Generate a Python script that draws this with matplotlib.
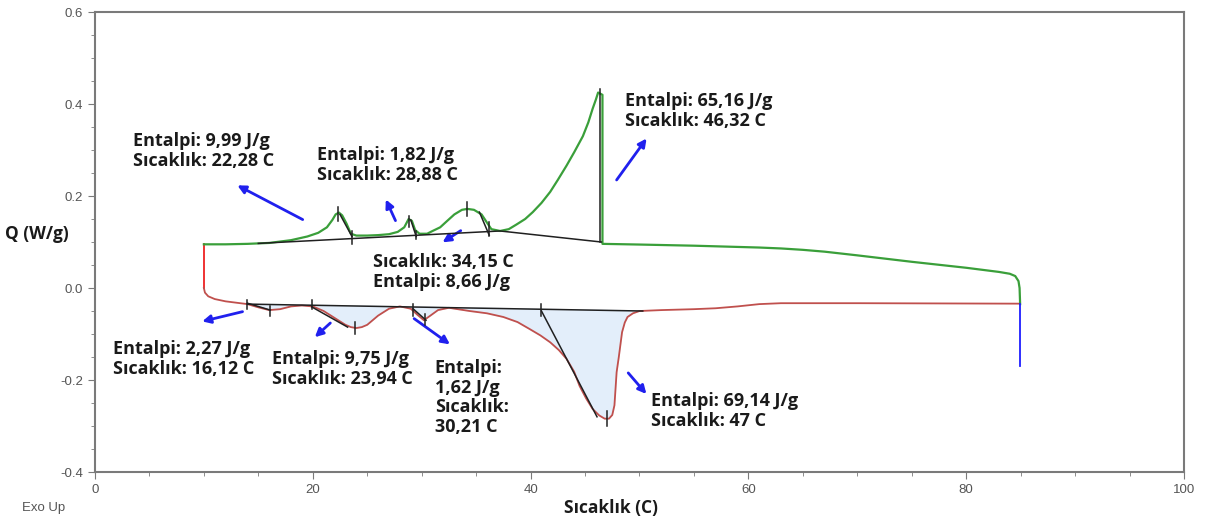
import matplotlib.pyplot as plt
import numpy as np

# heating curve (exo up)
heat_x = [10.0, 12, 14, 16, 18, 19.5, 20.5, 21.3, 21.8, 22.1, 22.4, 22.7, 23.1, 23.5, 24, 25, 26, 27,
          27.8, 28.4, 28.8, 29.1, 29.4, 29.8, 30.5, 31.0, 31.7, 32.3, 33, 33.7, 34.2, 34.8, 35.5,
          36.0, 36.4, 37.2, 38, 38.7, 39.5, 40.2, 41, 41.8, 42.5, 43.3, 44, 44.8, 45.3, 45.7, 46.0,
          46.2, 46.6, 46.6, 50, 55, 58, 61, 63, 65, 67, 70, 75, 80, 83, 84, 84.5, 84.8, 84.9, 84.95]
heat_y = [0.095, 0.095, 0.096, 0.098, 0.104, 0.112, 0.120, 0.132, 0.148, 0.160, 0.164, 0.158,
          0.140, 0.118, 0.114, 0.114, 0.115, 0.117, 0.122, 0.132, 0.150, 0.146, 0.126, 0.118,
          0.118, 0.124, 0.132, 0.145, 0.160, 0.170, 0.172, 0.170, 0.160, 0.142, 0.128, 0.124,
          0.128, 0.138, 0.150, 0.165, 0.185, 0.209, 0.235, 0.266, 0.295, 0.330, 0.360, 0.390,
          0.410, 0.425, 0.420, 0.096, 0.0945, 0.092, 0.090, 0.088, 0.086, 0.083, 0.079, 0.071,
          0.057, 0.044, 0.035, 0.031, 0.026, 0.015, 0.0, -0.035]

# cooling curve (endo down)
cool_x = [10.0, 10.1, 10.4, 11, 12, 13, 14, 15, 16, 17, 18, 19, 20, 21, 22, 23, 23.5, 24, 24.5,
          25, 26, 27, 28, 29, 29.6, 30.2, 30.8, 31.5, 32.5, 34.4, 36, 37.5, 38.8, 39.9, 40.9, 41.8,
          42.6, 43.3, 44.0, 44.5, 45.1, 45.7, 46.3, 46.8, 47.2, 47.5, 47.7, 47.9, 48.1, 48.4, 48.65,
          48.9, 49.4, 50, 52, 55, 57, 59, 61, 63, 70, 84.9]
cool_y = [0.0, -0.010, -0.018, -0.024, -0.029, -0.032, -0.035, -0.042, -0.048, -0.046, -0.040,
          -0.038, -0.040, -0.050, -0.065, -0.080, -0.085, -0.087, -0.085, -0.080, -0.060, -0.045,
          -0.040, -0.045, -0.058, -0.070, -0.060, -0.048, -0.043, -0.050, -0.055, -0.063, -0.074,
          -0.089, -0.103, -0.118, -0.135, -0.154, -0.182, -0.213, -0.240, -0.263, -0.277, -0.284,
          -0.284, -0.276, -0.255, -0.183, -0.150, -0.096, -0.075, -0.063, -0.055, -0.050, -0.048,
          -0.046, -0.044, -0.040, -0.035, -0.033, -0.033, -0.034]

# baselines
heat_base_x = [15, 37.2, 46.5]
heat_base_y = [0.097, 0.124, 0.100]
cool_base_x = [14, 50.3]
cool_base_y = [-0.035, -0.050]

# tangent segments and peak ticks (x0, y0, x1, y1)
heat_tangents = [(22.5, 0.160, 23.6, 0.112), (29.0, 0.148, 29.5, 0.112), (35.3, 0.165, 36.2, 0.115)]
heat_ticks = [(22.3, 0.146, 0.176), (23.6, 0.096, 0.124), (28.8, 0.133, 0.157), (29.5, 0.107, 0.124),
              (34.2, 0.157, 0.187), (36.2, 0.113, 0.143), (46.4, 0.100, 0.433)]
cool_tangents = [(14, -0.033, 16.1, -0.048), (19.9, -0.041, 23.2, -0.085), (29.2, -0.045, 30.4, -0.070),
                 (41.0, -0.050, 46.1, -0.280)]
cool_ticks = [(14.0, -0.025, -0.045), (16.1, -0.040, -0.060), (19.9, -0.025, -0.045),
              (23.9, -0.074, -0.100), (29.2, -0.035, -0.060), (30.3, -0.057, -0.080),
              (41.0, -0.035, -0.060), (47.0, -0.267, -0.300)]

# annotations: text, text position, arrow tail, arrow head
notes = ["Entalpi: 9,99 J/g\nSıcaklık: 22,28 C",
         "Entalpi: 1,82 J/g\nSıcaklık: 28,88 C",
         "Sıcaklık: 34,15 C\nEntalpi: 8,66 J/g",
         "Entalpi: 65,16 J/g\nSıcaklık: 46,32 C",
         "Entalpi: 2,27 J/g\nSıcaklık: 16,12 C",
         "Entalpi: 9,75 J/g\nSıcaklık: 23,94 C",
         "Entalpi:\n1,62 J/g\nSıcaklık:\n30,21 C",
         "Entalpi: 69,14 J/g\nSıcaklık: 47 C"]
note_pos = [(3.5, 0.339), (20.4, 0.309), (25.5, 0.076), (48.7, 0.426),
            (1.65, -0.113), (16.3, -0.135), (31.2, -0.154), (51.05, -0.226)]
arrow_from = [(19.3, 0.146), (27.7, 0.141), (33.8, 0.128), (47.75, 0.230),
              (13.8, -0.050), (21.8, -0.072), (29.1, -0.063), (48.8, -0.180)]
arrow_to = [(12.85, 0.226), (26.6, 0.198), (31.7, 0.096), (50.8, 0.330),
            (9.6, -0.074), (20.0, -0.111), (32.8, -0.126), (50.8, -0.235)]

fig = plt.figure(figsize=(12.05, 5.23), dpi=100)
ax = fig.add_axes([0.0788, 0.0975, 0.9038, 0.8795])

green = '#3a9f3a'
red = '#c0504d'
black = '#202020'
font = 'Open Sans'

cx = np.array(cool_x)
cy = np.array(cool_y)
base = np.interp(cx, cool_base_x, cool_base_y)
mask = (cx >= 14) & (cx <= 50.3)
ax.fill_between(cx, cy, base, where=mask & (cy < base), color='#e3eefa', interpolate=True, zorder=1)

ax.plot([10, 10], [0.095, 0.0], color='#ee2222', lw=1.3, zorder=3)
ax.plot(cool_x, cool_y, color=red, lw=1.3, zorder=3)
ax.plot(heat_x, heat_y, color=green, lw=1.6, zorder=3)
ax.plot([84.95, 84.95], [-0.035, -0.170], color='#1f1fff', lw=1.3, zorder=3)

ax.plot(heat_base_x, heat_base_y, color=black, lw=1.1, zorder=4)
ax.plot(cool_base_x, cool_base_y, color=black, lw=1.1, zorder=4)
for x0, y0, x1, y1 in heat_tangents + cool_tangents:
    ax.plot([x0, x1], [y0, y1], color=black, lw=1.1, zorder=4)
for x, y0, y1 in heat_ticks + cool_ticks:
    ax.plot([x, x], [y0, y1], color=black, lw=1.1, zorder=4)

for txt, pos, p0, p1 in zip(notes, note_pos, arrow_from, arrow_to):
    ax.annotate('', xy=p1, xytext=p0,
                arrowprops=dict(arrowstyle='-|>', color='#2020ee', lw=2, mutation_scale=12))
    ax.text(pos[0], pos[1], txt, ha='left', va='top', fontsize=13, color='#1a1a1a',
            family=font, weight='bold', linespacing=1.12)

ax.set_xlim(0, 100)
ax.set_ylim(-0.4, 0.6)
ax.set_xticks([0, 20, 40, 60, 80, 100])
ax.set_xticks(np.arange(0, 101, 5), minor=True)
ax.set_yticks([-0.4, -0.2, 0.0, 0.2, 0.4, 0.6])
ax.set_yticks(np.arange(-0.4, 0.61, 0.05), minor=True)
ax.set_yticklabels(['-0.4', '-0.2', '0.0', '0.2', '0.4', '0.6'])
for s in ax.spines.values():
    s.set_color('#7a7a7a')
    s.set_linewidth(1.5)
ax.tick_params(which='both', colors='#7a7a7a', labelcolor='#555555', labelsize=9.5)
ax.tick_params(which='major', length=5)
ax.tick_params(which='minor', length=3)
for lab in ax.get_xticklabels() + ax.get_yticklabels():
    lab.set_family('Liberation Sans')

fig.text(0.004, 0.552, 'Q (W/g)', fontsize=12.5, family=font, weight='bold', color='#1a1a1a',
         va='center', ha='left')
fig.text(0.507, 0.028, 'Sıcaklık (C)', fontsize=12.5, family=font, weight='bold', color='#1a1a1a',
         va='center', ha='center')
fig.text(0.018, 0.028, 'Exo Up', fontsize=9.5, family='Liberation Sans', color='#555555',
         va='center', ha='left')

fig.savefig('out.png', dpi=100)
